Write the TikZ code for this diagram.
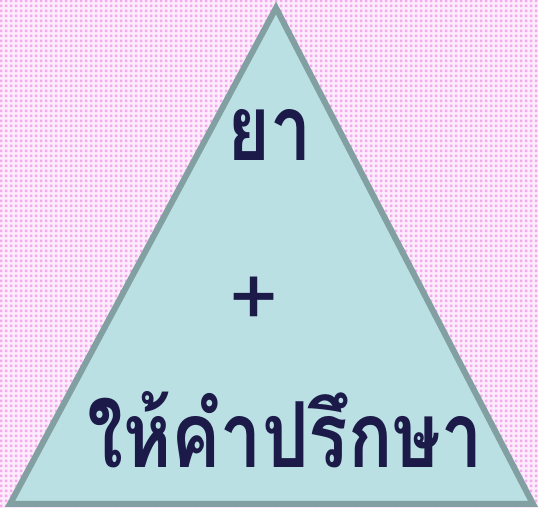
\documentclass[tikz,border=0pt]{standalone}
\usepackage{fontspec}
\newfontfamily\thaifont[Script=Thai]{Loma}
\usetikzlibrary{patterns}
\definecolor{bgpink}{RGB}{253,236,252}
\definecolor{dotpink}{RGB}{244,168,238}
\definecolor{trifill}{RGB}{186,224,228}
\definecolor{triedge}{RGB}{130,160,162}
\definecolor{inknavy}{RGB}{28,26,72}
\pgfdeclarepatternformonly{pinkgrid}{\pgfpointorigin}{\pgfpoint{5pt}{5pt}}{\pgfpoint{5pt}{5pt}}{%
  \pgfpathrectangle{\pgfpoint{1pt}{1pt}}{\pgfpoint{3pt}{3pt}}\pgfusepath{fill}}

\begin{document}
\begin{tikzpicture}[x=1pt,y=1pt]
    \tikzset{word/.style={text=inknavy, yscale=1.3, xscale=1.05, transform shape,
        inner sep=0pt, font=\thaifont\bfseries\fontsize{70}{80}\selectfont},
      sign/.style={text=inknavy, font=\thaifont\fontsize{84}{90}\selectfont}}
    \useasboundingbox (0,0) rectangle (538,508);
    \fill[bgpink] (0,0) rectangle (538,508);
    \fill[pattern=pinkgrid, pattern color=dotpink] (0,0) rectangle (538,508);
    \coordinate (T) at (276,500);
    \coordinate (L) at (10,4);
    \coordinate (R) at (533,4);
    \draw[line width=6pt, triedge, fill=trifill, line join=miter] (L) -- (T) -- (R) -- cycle;
    \node[word] (drug) at (270,373) {ยา};
    \node[sign] (plus) at (254,206) {+};
    \node[word] (advice) at (285,78) {ให้คำปรึกษา};
\end{tikzpicture}
\end{document}
